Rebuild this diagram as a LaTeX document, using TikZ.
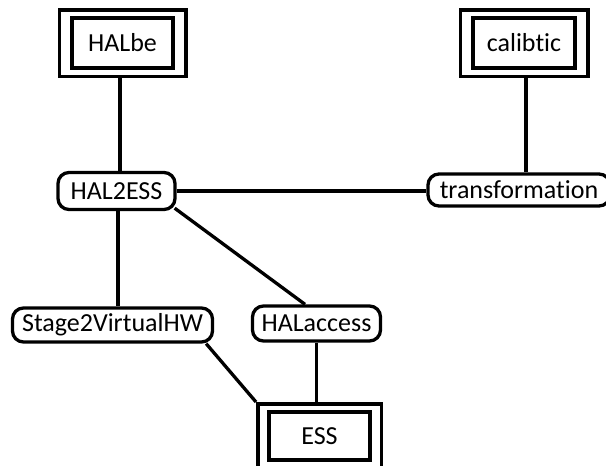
\documentclass[tikz,border=0pt]{standalone}
\usepackage{fontspec}
\setmainfont[Ligatures=NoCommon]{Carlito}
\usetikzlibrary{fit,calc}
\begin{document}
\begin{tikzpicture}[x=1pt,y=-1pt,
  every node/.style={font=\fontsize{26}{31}\selectfont, inner sep=0pt},
  innerbox/.style={draw, line width=3.5pt, minimum width=101pt, minimum height=50pt},
  outerbox/.style={draw, line width=3.5pt, inner xsep=11pt, inner ysep=6.5pt},
  roundbox/.style={draw, line width=3.3pt, rounded corners=11pt},
  conn/.style={line width=3.3pt}]
\useasboundingbox (0,0) rectangle (606,466);
% double boxes
\node[innerbox] (halbe) at (122.5,43) {HALbe};
\node[outerbox, fit=(halbe)] (halbeout) {};
\node[innerbox, minimum width=102pt] (calib) at (524,43) {calibtic};
\node[innerbox, minimum height=48pt] (ess) at (319.5,436) {ESS};
\node[outerbox, inner xsep=9.5pt, fit=(ess)] (essout) {};
\node[outerbox, fit=(calib)] (calibout) {};
% rounded nodes
\node[roundbox, minimum width=117pt, minimum height=37pt] (h2e) at (116.5,191) {HAL2ESS};
\node[roundbox, minimum width=182pt, minimum height=32pt] (tr) at (519,190) {transformation};
\node[roundbox, minimum width=200pt, minimum height=34pt] (s2v) at (112.5,325) {Stage2VirtualHW};
\node[roundbox, minimum width=128pt, minimum height=35pt] (hacc) at (316.5,323.5) {HALaccess};
% connectors
\draw[conn] ([xshift=-2.5pt]halbeout.south) -- ([xshift=-2.5pt]halbeout.south |- h2e.north);
\draw[conn] ([xshift=2pt]calibout.south) -- ([xshift=2pt]calibout.south |- tr.north);
\draw[conn] (h2e.east) -- (h2e.east -| tr.west);
\draw[conn] ([xshift=1.5pt]h2e.south) -- ([xshift=1.5pt]h2e.south |- s2v.north);
\draw[conn] ([xshift=-2pt,yshift=3pt]h2e.south east) -- ([xshift=-11.5pt]hacc.north);
\draw[conn] ([xshift=-8pt]s2v.south east) -- (essout.north west);
\draw[conn] (hacc.south) -- (hacc.south |- essout.north);
\end{tikzpicture}
\end{document}
